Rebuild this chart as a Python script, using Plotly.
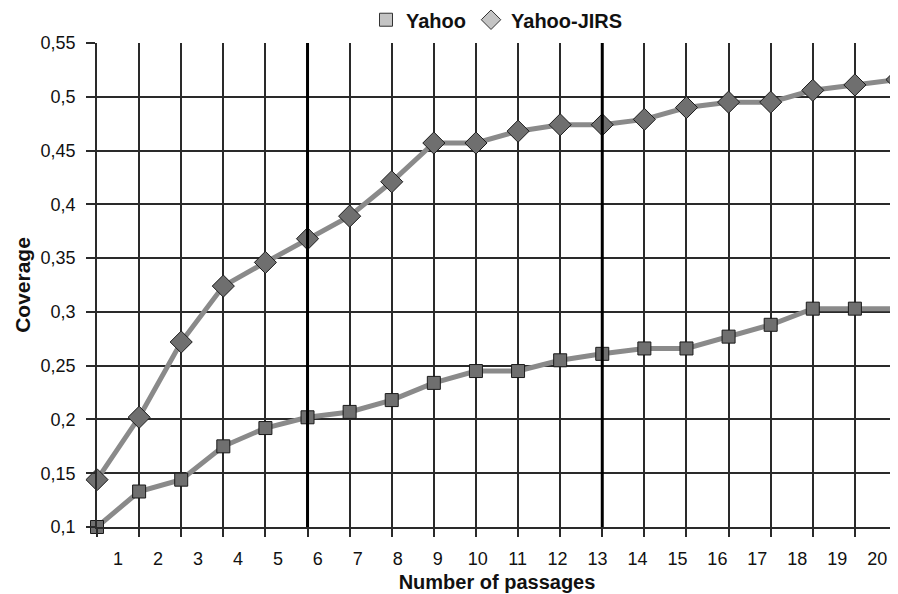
import numpy as np
import plotly.graph_objects as go

passages = list(range(1, 21))
tick_labels = [str(p) for p in passages]
yahoo = [0.100, 0.133, 0.144, 0.175, 0.192, 0.202, 0.207, 0.218, 0.234, 0.245,
         0.245, 0.255, 0.261, 0.266, 0.266, 0.277, 0.288, 0.303, 0.303, 0.303]
yahoo_jirs = [0.144, 0.202, 0.272, 0.324, 0.346, 0.368, 0.389, 0.421, 0.457, 0.457,
              0.468, 0.474, 0.474, 0.479, 0.490, 0.495, 0.495, 0.506, 0.511, 0.516]
highlight_passages = [6, 13]
y_ticks = [0.10, 0.15, 0.20, 0.25, 0.30, 0.35, 0.40, 0.45, 0.50, 0.55]

FONT = "Liberation Sans, Arial, sans-serif"
LINE_COL = "#8a8a8a"
MARK_COL = "#6f6f6f"
LEG_COL = "#c4c4c4"
GRID_COL = "#2a2a2a"

fig = go.Figure()

series = [("Yahoo", yahoo, "square", 13), ("Yahoo-JIRS", yahoo_jirs, "diamond", 17)]
for name, vals, sym, size in series:
    fig.add_trace(go.Scatter(
        x=passages, y=vals, mode="lines+markers", name=name, showlegend=False,
        line=dict(color=LINE_COL, width=5),
        marker=dict(symbol=sym, size=size, color=MARK_COL,
                    line=dict(color="#1a1a1a", width=1)),
        cliponaxis=False,
    ))
for name, vals, sym, size in series:
    fig.add_trace(go.Scatter(
        x=[None], y=[None], mode="markers", name=name, showlegend=True,
        marker=dict(symbol=sym, size=13 if sym == "square" else 15, color=LEG_COL,
                    line=dict(color="#333333", width=1)),
    ))

# dummy trace to activate label axis
fig.add_trace(go.Scatter(x=[None], y=[None], xaxis="x2", showlegend=False,
                         hoverinfo="skip"))

for p in highlight_passages:
    fig.add_shape(type="line", xref="x", yref="paper", x0=p, x1=p, y0=0, y1=1,
                  line=dict(color="#000000", width=3), layer="above")

n = len(passages)
label_pos = np.linspace(1.5, 19.53, n)

fig.update_layout(
    width=890, height=586,
    margin=dict(l=89, r=1, t=35, b=67, autoexpand=False),
    paper_bgcolor="white", plot_bgcolor="white",
    separators=", ",
    font=dict(family=FONT, size=18, color="#111111"),
    legend=dict(orientation="h", x=0.5, xanchor="center", yref="container",
                y=0.98, yanchor="middle",
                font=dict(family=FONT, size=20, color="#111111", weight="bold"),
                itemwidth=30, tracegroupgap=0),
    xaxis=dict(range=[1, 20], tickmode="linear", tick0=1, dtick=1,
               showticklabels=False, ticks="outside", ticklen=8, tickwidth=1.5,
               tickcolor=GRID_COL, showgrid=True, gridcolor=GRID_COL, gridwidth=1.5,
               showline=True, linecolor=GRID_COL, linewidth=1.5, zeroline=False,
               automargin=False),
    xaxis2=dict(range=[1, 20], overlaying="x", anchor="y", side="bottom",
                tickmode="array", tickvals=label_pos, ticktext=tick_labels,
                ticks="", showgrid=False, zeroline=False, showline=False,
                ticklabelstandoff=19, automargin=False,
                tickfont=dict(family=FONT, size=18, color="#111111"),
                title=dict(text="Number of passages", standoff=6,
                           font=dict(family=FONT, size=20, color="#111111",
                                     weight="bold"))),
    yaxis=dict(range=[0.1, 0.55], tickmode="array", tickvals=y_ticks,
               ticks="outside", ticklen=9, tickwidth=1.5, tickcolor=GRID_COL,
               showgrid=True, gridcolor=GRID_COL, gridwidth=1.5,
               showline=True, linecolor=GRID_COL, linewidth=1.5, mirror=False,
               zeroline=False, ticklabelstandoff=7, automargin=False,
               tickfont=dict(family=FONT, size=18, color="#111111"),
               title=dict(text="Coverage", standoff=4,
                          font=dict(family=FONT, size=21, color="#111111",
                                    weight="bold"))),
)

fig.write_html("out.html")
